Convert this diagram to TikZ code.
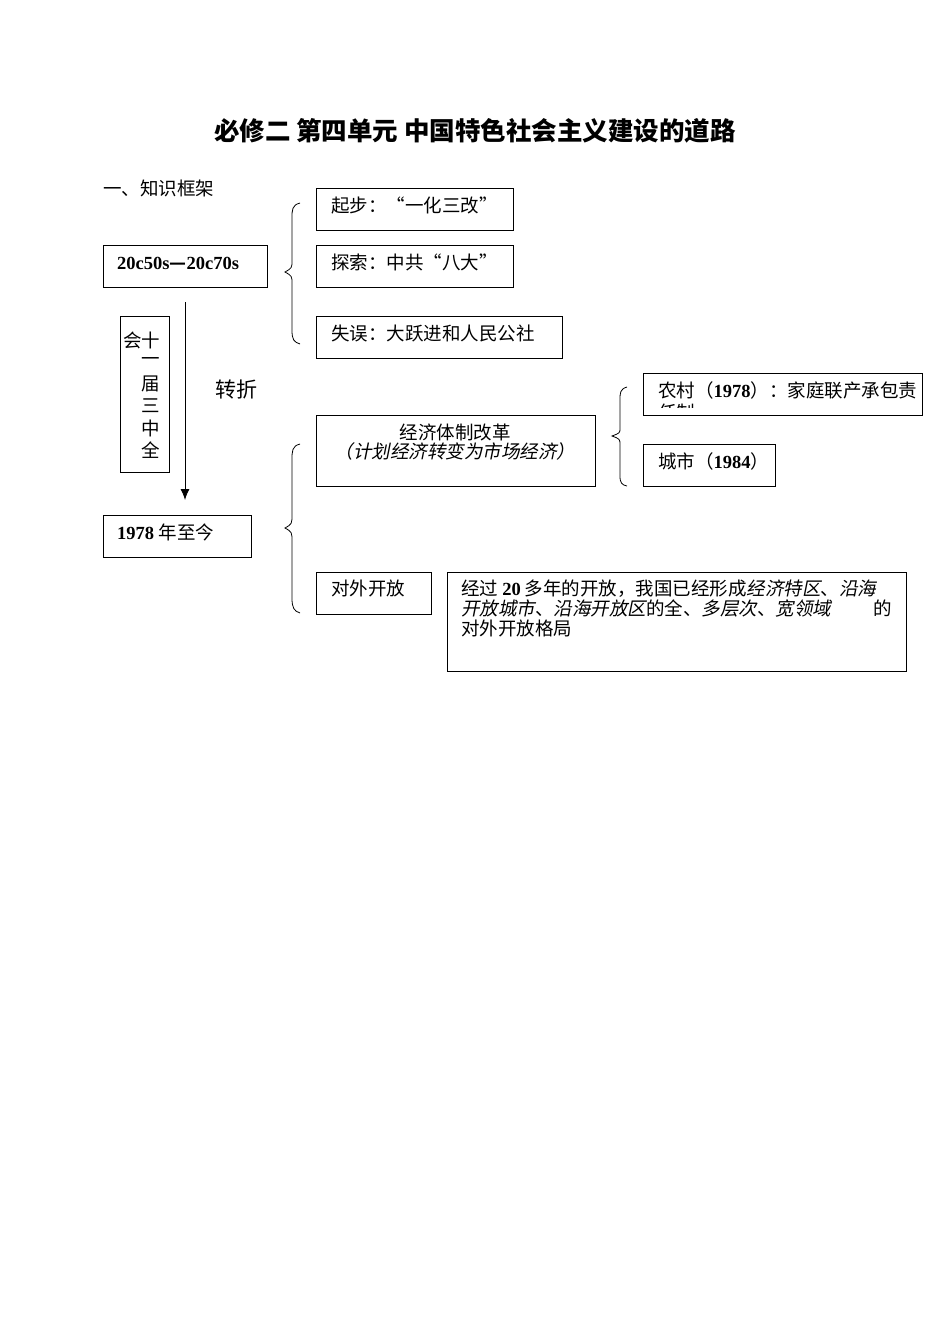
\documentclass[tikz,border=0pt]{standalone}
\usepackage{fontspec}
\usetikzlibrary{arrows.meta}
\setmainfont{Liberation Serif}
\newfontfamily\zh{Noto Sans CJK SC}
\newfontfamily\zhi[FakeSlant=0.2]{Noto Sans CJK SC}
\begin{document}
\begin{tikzpicture}[x=1pt,y=-1pt,
  bx/.style={draw,line width=0.9pt},
  tx/.style={anchor=west,inner sep=0,font=\fontsize{18.5}{20}\selectfont},
  br/.style={line width=0.8pt}]
\useasboundingbox (0,0) rectangle (950,1342);
\node[inner sep=0,font=\fontsize{25.5}{28}\selectfont\bfseries] (title) at (475,131) {\zh 必修二 第四单元 中国特色社会主义建设的道路};
\node[tx] (kj) at (103,188) {\zh 一、知识框架};
% left boxes
\draw[bx] (103,245) rectangle (267,287);
\node[tx] (t1) at (117,263) {\bfseries 20c50s{\zh —}20c70s};
\draw[bx] (120,316) rectangle (169,472);
\foreach \c/\y in {十/340,一/362,届/384,三/406,中/428,全/450}
  \node[inner sep=0,font=\fontsize{18.5}{20}\selectfont] at (151,\y) {\zh \c};
\node[inner sep=0,font=\fontsize{18.5}{20}\selectfont] (hui) at (133,340) {\zh 会};
\coordinate (a1) at (185,302); \coordinate (a2) at (185,500);
\draw[line width=0.9pt,-{Latex[length=11pt,width=9pt]}] (a1) -- (a2);
\node[inner sep=0,font=\fontsize{21}{23}\selectfont] (zz) at (236,390) {\zh 转折};
\draw[bx] (103,515) rectangle (251,557);
\node[tx] (t2) at (117,532) {{\bfseries 1978} \zh 年至今};
% brace 1
\draw[br] (300,203) .. controls (292,205) and (292,210) .. (292,218) -- (292,260) .. controls (292,268) .. (285,272) .. controls (292,276) .. (292,284) -- (292,330) .. controls (292,340) and (294,342) .. (300,344);
\draw[bx] (316,188) rectangle (513,230);
\node[tx] (q1) at (331,205) {\zh 起步：“一化三改”};
\draw[bx] (316,245) rectangle (513,287);
\node[tx] (q2) at (331,262) {\zh 探索：中共“八大”};
\draw[bx] (316,316) rectangle (562,358);
\node[tx] (q3) at (331,333) {\zh 失误：大跃进和人民公社};
% brace 2
\draw[br] (300,444) .. controls (292,446) and (292,451) .. (292,460) -- (292,514) .. controls (292,524) .. (285,528) .. controls (292,532) .. (292,542) -- (292,598) .. controls (292,608) and (294,611) .. (300,613);
\draw[bx] (316,415) rectangle (595,486);
\node[inner sep=0,font=\fontsize{18.5}{20}\selectfont] (e1) at (455,432) {\zh 经济体制改革};
\node[inner sep=0,font=\fontsize{18.5}{20}\selectfont] (e2) at (455,451) {\zhi （计划经济转变为市场经济）};
% brace 3
\draw[br] (627,387) .. controls (620,389) and (620,393) .. (620,400) -- (620,428) .. controls (620,433) .. (612,436) .. controls (620,439) .. (620,445) -- (620,476) .. controls (620,483) and (622,485) .. (627,486);
\draw[bx] (643,373) rectangle (922,415);
\begin{scope}
\clip (644,374) rectangle (921,407);
\node[tx] (n1) at (658,390) {\zh 农村（{\rmfamily\bfseries 1978}）：家庭联产承包责};
\node[tx] (n2) at (658,412) {\zh 任制};
\end{scope}
\draw[bx] (643,444) rectangle (775,486);
\node[tx] (c1) at (658,461) {\zh 城市（{\rmfamily\bfseries 1984}）};
\draw[bx] (316,572) rectangle (431,614);
\node[tx] (dw) at (331,588) {\zh 对外开放};
\draw[bx] (447,572) rectangle (906,671);
\node[tx] (b1) at (461,589) {\zh 经过 {\rmfamily\bfseries 20} 多年的开放，我国已经形成{\zhi 经济特区}、{\zhi 沿海}};
\node[tx] (b2) at (461,608) {\zhi 开放城市{\zh 、}沿海开放区{\zh 的全、}多层次{\zh 、}宽领域};
\node[tx] (b2c) at (873,608) {\zh 的};
\node[tx] (b3) at (461,628) {\zh 对外开放格局};
\end{tikzpicture}
\end{document}
